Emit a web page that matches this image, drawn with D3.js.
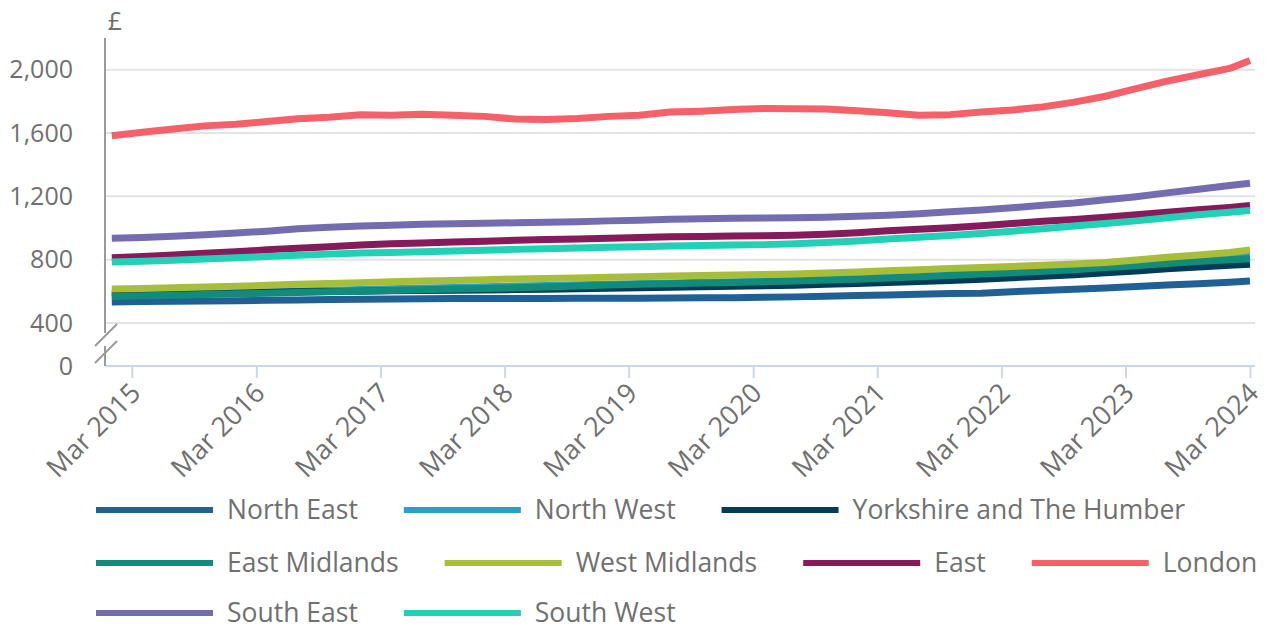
<!DOCTYPE html>
<html>
<head>
<meta charset="utf-8">
<script src="https://cdn.jsdelivr.net/npm/d3@7"></script>
<style>
  html, body { margin: 0; padding: 0; background: #fff; }
  svg { display: block; font-family: "Open Sans", sans-serif; }
</style>
</head>
<body>
<svg id="chart" width="1268" height="631"></svg>
<script>
// quarterly readings, Jan 2015 .. Jan 2024, plus Mar 2024
const months = [
  "2015-01","2015-04","2015-07","2015-10","2016-01","2016-04","2016-07","2016-10",
  "2017-01","2017-04","2017-07","2017-10","2018-01","2018-04","2018-07","2018-10",
  "2019-01","2019-04","2019-07","2019-10","2020-01","2020-04","2020-07","2020-10",
  "2021-01","2021-04","2021-07","2021-10","2022-01","2022-04","2022-07","2022-10",
  "2023-01","2023-04","2023-07","2023-10","2024-01","2024-03"
];

const northEast = [533,535,537,539,541,543,546,548,550,552,553,554,555,555,555,556,556,557,558,559,560,562,565,569,573,577,581,586,588,598,606,613,621,630,640,648,657,665];
const northWest = [575,579,583,588,592,597,602,607,612,616,621,625,629,633,637,641,645,649,653,657,661,665,670,676,683,690,698,707,716,726,736,747,760,773,787,801,815,824];
const yorkshire = [585,587,589,591,593,595,597,599,601,603,605,607,609,611,613,616,619,622,626,629,632,635,639,644,649,655,662,669,677,686,695,705,717,729,742,754,764,771];
const eastMidlands = [568,572,576,580,584,588,592,597,601,605,610,614,618,622,628,634,640,644,648,652,656,660,665,671,677,684,692,700,709,718,727,737,750,762,775,788,799,806];
const westMidlands = [615,618,622,627,632,638,644,649,655,660,665,669,673,678,681,685,689,692,697,700,703,706,710,716,722,730,737,745,750,757,764,772,782,798,815,830,845,862];
const east = [812,820,830,840,850,862,872,882,893,900,905,912,917,922,927,930,935,940,944,947,949,951,954,960,970,982,992,1002,1014,1028,1042,1054,1068,1083,1100,1115,1130,1142];
const london = [1582,1605,1625,1645,1655,1672,1690,1700,1715,1712,1718,1712,1705,1688,1685,1692,1705,1712,1732,1738,1748,1755,1753,1752,1740,1728,1712,1716,1732,1745,1765,1795,1832,1880,1928,1968,2008,2058];
const southEast = [935,940,948,958,968,980,995,1005,1012,1018,1023,1027,1030,1033,1036,1040,1045,1049,1055,1059,1061,1063,1065,1068,1074,1080,1090,1102,1114,1128,1143,1158,1178,1198,1222,1245,1268,1283];
const southWest = [785,790,797,804,812,820,828,835,842,846,850,855,860,865,869,874,878,882,886,889,892,895,900,908,918,930,942,953,965,980,995,1012,1028,1045,1065,1083,1100,1110];

const regionNames = ["North East","North West","Yorkshire and The Humber","East Midlands",
  "West Midlands","East","London","South East","South West"];
const regionValues = [northEast, northWest, yorkshire, eastMidlands, westMidlands,
  east, london, southEast, southWest];
const regionColors = ["#206095","#27a0cc","#003c57","#118c7b","#a8bd3a",
  "#871a5b","#f66068","#746cb1","#22d0b6"];
// which legend row each region sits on
const legendRows = [0, 0, 0, 1, 1, 1, 1, 2, 2];

const yTicks = [0, 400, 800, 1200, 1600, 2000];
const xTickMonths = ["2015-03","2016-03","2017-03","2018-03","2019-03",
  "2020-03","2021-03","2022-03","2023-03","2024-03"];

const parseMonth = d3.timeParse("%Y-%m");
const fmtTick = d3.timeFormat("%b %Y");
const textColor = "#707070";

const svg = d3.select("#chart");

const plotLeft = 105, plotRight = 1255;

const x = d3.scaleTime()
  .domain([parseMonth(months[0]), parseMonth(months[months.length - 1])])
  .range([111.8, 1250]);

// broken axis: 0 sits just below the 400 gridline
const y = d3.scaleLinear()
  .domain([0, 400, 2200])
  .range([366, 323, 38]);

// gridlines
svg.append("g")
  .selectAll("line")
  .data(yTicks.filter(d => d > 0))
  .join("line")
  .attr("x1", plotLeft)
  .attr("x2", plotRight)
  .attr("y1", d => y(d))
  .attr("y2", d => y(d))
  .attr("stroke", "#e3e3e3")
  .attr("stroke-width", 2);

// y tick labels
svg.append("g")
  .selectAll("text")
  .data(yTicks)
  .join("text")
  .attr("x", 73)
  .attr("y", d => y(d))
  .attr("dy", "0.35em")
  .attr("text-anchor", "end")
  .attr("fill", textColor)
  .style("font-size", "25px")
  .text(d => d3.format(",")(d));

svg.append("text")
  .attr("x", 115)
  .attr("y", 21)
  .attr("dy", "0.35em")
  .attr("text-anchor", "middle")
  .attr("fill", textColor)
  .style("font-size", "25px")
  .text("£");

// x axis
const xAxis = d3.axisBottom(x)
  .tickValues(xTickMonths.map(parseMonth))
  .tickFormat(fmtTick)
  .tickSize(12)
  .tickSizeOuter(0);

const xAxisGroup = svg.append("g")
  .attr("transform", "translate(0,366)")
  .call(xAxis);

xAxisGroup.select(".domain").remove();
xAxisGroup.insert("line", ":first-child")
  .attr("x1", plotLeft)
  .attr("x2", plotRight)
  .attr("stroke", "#cdd6e8")
  .attr("stroke-width", 2);
xAxisGroup.selectAll(".tick line")
  .attr("stroke", "#cdd6e8")
  .attr("stroke-width", 2);
xAxisGroup.selectAll(".tick text")
  .attr("fill", textColor)
  .style("font-size", "27px")
  .style("font-family", "'Open Sans', sans-serif")
  .attr("text-anchor", "end")
  .attr("y", 0)
  .attr("dy", "0.35em")
  .attr("transform", "translate(3,22) rotate(-45)");

// y axis line with break marks
const yAxisG = svg.append("g").attr("stroke", "#9a9a9a").attr("stroke-width", 2);
yAxisG.append("line").attr("x1", plotLeft).attr("x2", plotLeft).attr("y1", 38).attr("y2", 333);
yAxisG.append("line").attr("x1", plotLeft).attr("x2", plotLeft).attr("y1", 346).attr("y2", 366);
yAxisG.append("line").attr("x1", 95).attr("x2", 117).attr("y1", 346).attr("y2", 324);
yAxisG.append("line").attr("x1", 95).attr("x2", 117).attr("y1", 363).attr("y2", 341);

// series lines
const line = d3.line()
  .x((d, i) => x(parseMonth(months[i])))
  .y(d => y(d));

svg.append("g")
  .selectAll("path")
  .data(regionValues)
  .join("path")
  .attr("d", d => line(d))
  .attr("fill", "none")
  .attr("stroke", (d, i) => regionColors[i])
  .attr("stroke-width", 7)
  .attr("stroke-linejoin", "round");

// legend, three rows
const legend = svg.append("g");
const rowYs = [510, 563, 613];
let lx = 96, row = 0;
regionNames.forEach((name, i) => {
  if (legendRows[i] !== row) { row = legendRows[i]; lx = 96; }
  const item = legend.append("g")
    .attr("transform", `translate(${lx},${rowYs[row]})`);
  item.append("line")
    .attr("x1", 0).attr("x2", 117)
    .attr("stroke", regionColors[i])
    .attr("stroke-width", 6);
  const t = item.append("text")
    .attr("x", 131)
    .attr("dy", "0.35em")
    .attr("fill", textColor)
    .style("font-size", "26.5px")
    .text(name);
  lx += 131 + t.node().getComputedTextLength() + 46;
});
</script>
</body>
</html>
